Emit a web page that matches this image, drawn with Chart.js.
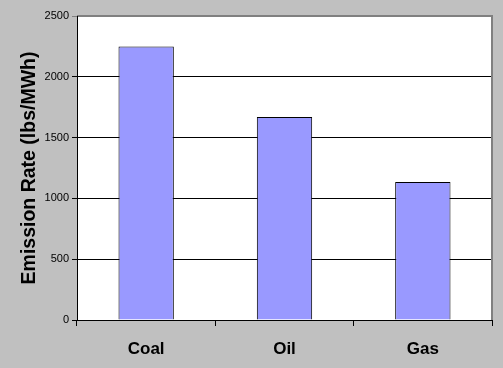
<!DOCTYPE html>
<html>
<head>
<meta charset="utf-8">
<script src="https://cdn.jsdelivr.net/npm/chart.js@4"></script>
<style>
body { margin: 0; background: #c0c0c0; }
canvas { display: block; }
</style>
</head>
<body>
<canvas id="emissionChart" width="503" height="368"></canvas>
<script>
// values
const fuels = ['Coal', 'Oil', 'Gas'];
const emissionRates = [2250, 1670, 1135];
const yTicks = [0, 500, 1000, 1500, 2000, 2500];

const plotBackground = {
    id: 'plotBackground',
    beforeDraw(chart) {
        const ctx = chart.ctx;
        const a = chart.chartArea;
        ctx.save();
        ctx.fillStyle = '#c0c0c0';
        ctx.fillRect(0, 0, chart.width, chart.height);
        ctx.fillStyle = '#ffffff';
        ctx.fillRect(a.left, a.top, a.right - a.left, a.bottom - a.top);
        ctx.restore();
    },
    afterDraw(chart) {
        const ctx = chart.ctx;
        const a = chart.chartArea;
        ctx.save();
        ctx.strokeStyle = '#808080';
        ctx.lineWidth = 2;
        ctx.beginPath();
        ctx.moveTo(a.left, a.top);
        ctx.lineTo(a.right, a.top);
        ctx.lineTo(a.right, a.bottom);
        ctx.stroke();
        ctx.strokeStyle = '#000000';
        ctx.lineWidth = 1;
        ctx.beginPath();
        ctx.moveTo(a.left + 0.5, a.top);
        ctx.lineTo(a.left + 0.5, a.bottom + 0.5);
        ctx.lineTo(a.right, a.bottom + 0.5);
        ctx.stroke();
        ctx.restore();
    }
};

new Chart(document.getElementById('emissionChart').getContext('2d'), {
    type: 'bar',
    data: {
        labels: fuels,
        datasets: [{
            label: 'Emission Rate',
            data: emissionRates,
            backgroundColor: '#9999ff',
            borderColor: '#000000',
            borderWidth: 1,
            barPercentage: 0.4,
            categoryPercentage: 1.0
        }]
    },
    options: {
        responsive: false,
        animation: false,
        layout: { padding: { top: 16, right: 11, left: 0, bottom: 0 } },
        plugins: {
            legend: { display: false },
            tooltip: { enabled: false }
        },
        scales: {
            x: {
                offset: true,
                grid: {
                    offset: true,
                    drawOnChartArea: false,
                    color: '#000000',
                    tickLength: 6
                },
                border: { color: '#000000' },
                ticks: {
                    color: '#000000',
                    padding: 13,
                    font: { family: 'Liberation Sans', size: 17, weight: 'bold' }
                },
                afterFit(scale) { scale.height = 48; }
            },
            y: {
                min: 0,
                max: 2500,
                afterBuildTicks(scale) { scale.ticks = yTicks.map(v => ({ value: v })); },
                grid: {
                    color: ctx => ctx.tick && ctx.tick.value === 2500 ? '#808080' : '#000000',
                    tickLength: 5
                },
                border: { color: '#000000' },
                ticks: {
                    color: '#000000',
                    padding: 3,
                    font: { family: 'Liberation Sans', size: 11 },
                    callback: value => String(value)
                },
                title: {
                    display: true,
                    text: 'Emission Rate (lbs/MWh)',
                    color: '#000000',
                    padding: { top: 18, bottom: 0 },
                    font: { family: 'Liberation Sans', size: 19.5, weight: 'bold' }
                },
                afterFit(scale) { scale.width = 77; }
            }
        }
    },
    plugins: [plotBackground]
});
</script>
</body>
</html>
